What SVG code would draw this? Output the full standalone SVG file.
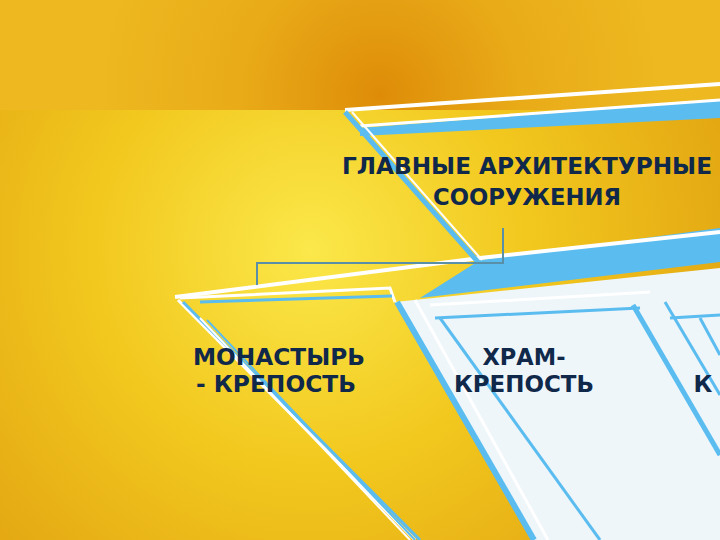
<svg xmlns="http://www.w3.org/2000/svg" width="720" height="540" viewBox="0 0 720 540">
<defs>
<radialGradient id="bg" cx="310" cy="250" r="480" gradientUnits="userSpaceOnUse">
<stop offset="0" stop-color="#fbe84a"/><stop offset="0.45" stop-color="#f2c81e"/><stop offset="1" stop-color="#e0a010"/>
</radialGradient>
<radialGradient id="top" cx="380" cy="95" r="280" gradientUnits="userSpaceOnUse">
<stop offset="0" stop-color="#de8c08"/><stop offset="0.5" stop-color="#e9ab18"/><stop offset="1" stop-color="#edb820"/>
</radialGradient>
<style>
.t{font-family:"DejaVu Sans","Liberation Sans",sans-serif;font-weight:bold;font-size:23px;fill:#10284a;text-anchor:middle}
.b{stroke:#5bbcf0;fill:none}
.w{stroke:#ffffff;fill:none}
.c{stroke:#5a8fa8;stroke-width:2;fill:none}
</style>
</defs>
<rect width="720" height="540" fill="url(#bg)"/>
<rect width="720" height="110" fill="url(#top)"/>
<g id="shapes">
<polygon points="395,302 720,268 720,540 532,540" fill="#eef6fa"/>
<polygon points="360,128 720,100 720,118 360,136" fill="#5bbcf0"/>
<line class="w" x1="345" y1="110" x2="720" y2="84" stroke-width="4"/>
<line class="w" x1="360" y1="126" x2="720" y2="100" stroke-width="3"/>
<line class="b" x1="362" y1="130" x2="720" y2="112" stroke-width="4"/>
<polygon points="480,260 720,228 720,262 420,298" fill="#5bbcf0"/>
<polyline class="w" points="175,297 480,258 720,232" stroke-width="4"/>
<line class="b" x1="345" y1="112" x2="478" y2="262" stroke-width="5"/>
<line class="w" x1="352" y1="112" x2="482" y2="260" stroke-width="2"/>
<polyline class="w" points="180,298 390,288 395,302" stroke-width="3"/>
<line class="b" x1="200" y1="302" x2="392" y2="296" stroke-width="3"/>
<line class="w" x1="178" y1="300" x2="415" y2="540" stroke-width="3"/>
<line class="b" x1="183" y1="302" x2="420" y2="540" stroke-width="3"/>
<line class="w" x1="200" y1="318" x2="410" y2="540" stroke-width="2"/>
<line class="b" x1="207" y1="320" x2="415" y2="540" stroke-width="2"/>
<line class="b" x1="397" y1="302" x2="534" y2="540" stroke-width="6"/>
<line class="w" x1="415" y1="300" x2="548" y2="540" stroke-width="3"/>
<line class="b" x1="440" y1="318" x2="600" y2="540" stroke-width="3"/>
<line class="b" x1="435" y1="318" x2="640" y2="308" stroke-width="3"/>
<line class="w" x1="430" y1="305" x2="650" y2="292" stroke-width="3"/>
<line class="b" x1="633" y1="305" x2="720" y2="455" stroke-width="5"/>
<line class="b" x1="665" y1="302" x2="720" y2="395" stroke-width="3"/>
<line class="b" x1="700" y1="318" x2="720" y2="355" stroke-width="3"/>
<line class="b" x1="670" y1="318" x2="720" y2="315" stroke-width="3"/>
</g>
<g id="connectors">
<polyline class="c" points="503,228 503,263 257,263 257,285"/>
</g>
<g id="n-root"><text class="t" x="527" y="174" textLength="370" lengthAdjust="spacingAndGlyphs">ГЛАВНЫЕ АРХИТЕКТУРНЫЕ</text><text class="t" x="527" y="205" textLength="188" lengthAdjust="spacingAndGlyphs">СООРУЖЕНИЯ</text></g>
<g id="n-mon"><text class="t" x="279" y="365" textLength="172" lengthAdjust="spacingAndGlyphs">МОНАСТЫРЬ</text><text class="t" x="276" y="392" textLength="160" lengthAdjust="spacingAndGlyphs">- КРЕПОСТЬ</text></g>
<g id="n-hram"><text class="t" x="524" y="365" textLength="83" lengthAdjust="spacingAndGlyphs">ХРАМ-</text><text class="t" x="524" y="392" textLength="140" lengthAdjust="spacingAndGlyphs">КРЕПОСТЬ</text></g>
<g id="n-k"><text class="t" x="703" y="392" text-anchor="start">К</text></g>
</svg>
